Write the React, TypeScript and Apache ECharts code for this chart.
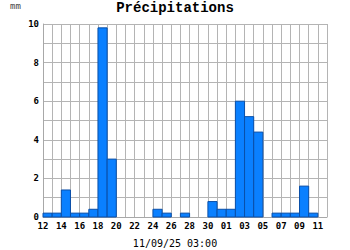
import React, { useEffect, useRef } from "react";
import * as echarts from "echarts";

const hourLabels = ["12", "14", "16", "18", "20", "22", "24", "26", "28", "30", "01", "03", "05", "07", "09", "11"];
const rainMm = [
  0.2, 0.2, 1.4, 0.2, 0.2, 0.4, 9.8, 3.0, 0, 0, 0, 0, 0.4, 0.2, 0, 0.2,
  0, 0, 0.8, 0.4, 0.4, 6.0, 5.2, 4.4, 0, 0.2, 0.2, 0.2, 1.6, 0.2, 0,
];
const yTicks = [0, 2, 4, 6, 8, 10];
const titleText = "Précipitations";
const unitText = "mm";
const dateText = "11/09/25 03:00";

const MONO = "'DejaVu Sans Mono', 'Liberation Mono', monospace";

export default function App() {
  const ref = useRef<HTMLDivElement>(null);
  useEffect(() => {
    if (!ref.current) return;
    const chart = echarts.init(ref.current, null, { renderer: "svg" });
    const data = rainMm.map((v, i) => [i, v]);
    chart.setOption({
      animation: false,
      backgroundColor: "#ffffff",
      graphic: [
        {
          type: "text",
          x: 175,
          y: 8,
          style: {
            text: titleText,
            fontFamily: "'Liberation Mono', monospace",
            fontWeight: "bold",
            fontSize: 14,
            fill: "#000",
            align: "center",
            verticalAlign: "middle",
          },
        },
        {
          type: "text",
          x: 10,
          y: 6,
          style: { text: unitText, fontFamily: MONO, fontSize: 9, fill: "#444", verticalAlign: "middle" },
        },
        {
          type: "text",
          x: 175,
          y: 243,
          style: { text: dateText, fontFamily: MONO, fontSize: 10, fill: "#000", align: "center", verticalAlign: "middle" },
        },
      ],
      grid: { left: 43, right: 23, top: 24, height: 193 },
      xAxis: {
        type: "value",
        min: 0,
        max: rainMm.length,
        interval: 1,
        axisLine: { show: true, lineStyle: { color: "#a8a8a8" } },
        axisTick: { show: false },
        splitLine: { show: true, lineStyle: { color: "#b4b4b4", width: 1 } },
        axisLabel: {
          margin: 4,
          fontFamily: MONO,
          fontWeight: "bold",
          fontSize: 9,
          color: "#000",
          showMaxLabel: true,
          formatter: (v: number) => (v % 2 === 0 && v / 2 < hourLabels.length ? hourLabels[v / 2] : ""),
        },
      },
      yAxis: {
        type: "value",
        min: 0,
        max: 10,
        interval: 1,
        axisLine: { show: true, lineStyle: { color: "#a8a8a8" } },
        axisTick: { show: false },
        splitLine: { show: true, lineStyle: { color: "#b4b4b4", width: 1 } },
        axisLabel: {
          margin: 4,
          fontFamily: MONO,
          fontWeight: "bold",
          fontSize: 9,
          color: "#000",
          formatter: (v: number) => (yTicks.indexOf(v) >= 0 ? String(v) : ""),
        },
      },
      series: [
        {
          type: "custom",
          data,
          renderItem: (params: any, api: any) => {
            const i = api.value(0);
            const v = api.value(1);
            if (!v) return null;
            const p0 = api.coord([i, v]);
            const p1 = api.coord([i + 1, 0]);
            return {
              type: "rect",
              shape: { x: p0[0], y: p0[1], width: p1[0] - p0[0], height: p1[1] - p0[1] },
              style: { fill: "#0a80ff", stroke: "#0a4fa8", lineWidth: 1 },
            };
          },
        },
      ],
    });
    return () => chart.dispose();
  }, []);
  return <div ref={ref} style={{ width: 350, height: 250, position: "absolute", left: 0, top: 0 }} />;
}
